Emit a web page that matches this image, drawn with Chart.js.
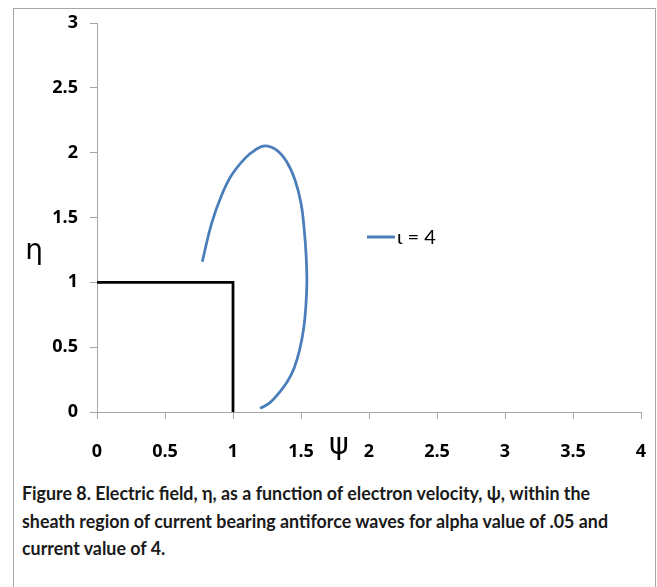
<!DOCTYPE html>
<html>
<head>
<meta charset="utf-8">
<script src="https://cdn.jsdelivr.net/npm/chart.js@4.4.0/dist/chart.umd.min.js"></script>
<style>
  body { margin: 0; background: #fff; }
  #wrap { position: relative; width: 657px; height: 587px; overflow: hidden; }
  #frame { position: absolute; left: 13px; top: 8px; width: 643px; height: 620px; border: 1px solid #a6a6a6; box-sizing: border-box; }
  #chart { position: absolute; left: 0; top: 0; }
  #caption {
    position: absolute; left: 22px; top: 479px; white-space: nowrap;
    font-family: Lato, "Open Sans", sans-serif;
    font-weight: bold; font-size: 19px; line-height: 27.5px; color: #1a1a1a;
    transform-origin: 0 0;
  }
</style>
</head>
<body>
<div id="wrap">
  <div id="frame"></div>
  <canvas id="chart" width="657" height="470"></canvas>
  <div id="caption"><span id="line1">Figure 8. Electric field, η, as a function of electron velocity, ψ, within the</span><br>sheath region of current bearing antiforce waves for alpha value of .05 and<br>current value of 4.</div>
</div>
<script>
// curve for current = 4
const curvePsi = [0.774, 0.843, 0.917, 0.990, 1.088, 1.162, 1.235, 1.321, 1.395, 1.456, 1.500, 1.524, 1.538, 1.543, 1.536, 1.519, 1.490, 1.450, 1.400, 1.346, 1.272, 1.199];
const curveEta = [1.159, 1.455, 1.673, 1.827, 1.956, 2.020, 2.053, 2.020, 1.930, 1.789, 1.609, 1.403, 1.200, 1.000, 0.820, 0.640, 0.480, 0.340, 0.235, 0.157, 0.072, 0.028];

// black boundary lines
const boxPsi = [0, 1, 1];
const boxEta = [1, 1, 0];

const legendLabel = 'ι = 4';
const xTitle = 'ψ';
const yTitle = 'η';

const tickFont = { family: '"Open Sans", Roboto, sans-serif', size: 18, weight: 'bold' };

function toPoints(xs, ys) {
    return xs.map((x, i) => ({ x: x, y: ys[i] }));
}

// squeeze the caption so its first line spans the same width as in the figure
function fitCaption() {
    const w = document.getElementById('line1').getBoundingClientRect().width;
    const s = Math.min(1, 568 / w);
    document.getElementById('caption').style.transform = 'scaleX(' + s + ')';
}

const extrasPlugin = {
    id: 'extras',
    afterDraw(chart) {
        const ctx = chart.ctx;
        ctx.save();
        ctx.fillStyle = '#000';
        ctx.textAlign = 'center';
        ctx.textBaseline = 'middle';
        ctx.font = '28px "DejaVu Sans", sans-serif';
        ctx.fillText(yTitle, 34, 252);
        ctx.font = '30px "DejaVu Sans", sans-serif';
        ctx.fillText(xTitle, 339, 446);

        // legend
        const ds = chart.data.datasets[0];
        ctx.strokeStyle = ds.borderColor;
        ctx.lineWidth = 3;
        ctx.beginPath();
        ctx.moveTo(367, 237);
        ctx.lineTo(395, 237);
        ctx.stroke();
        ctx.textAlign = 'left';
        ctx.font = '20px Lato, "Open Sans", sans-serif';
        ctx.fillText(ds.label, 397, 238);
        ctx.restore();
    }
};

const ctx = document.getElementById('chart').getContext('2d');
new Chart(ctx, {
    type: 'scatter',
    data: {
        datasets: [{
            label: legendLabel,
            data: toPoints(curvePsi, curveEta),
            showLine: true,
            borderColor: '#4a7ebb',
            borderWidth: 2.75,
            pointRadius: 0,
            tension: 0.4
        }, {
            label: 'boundary',
            data: toPoints(boxPsi, boxEta),
            showLine: true,
            borderColor: '#000',
            borderWidth: 2.75,
            pointRadius: 0,
            tension: 0
        }]
    },
    options: {
        responsive: false,
        animation: false,
        layout: { padding: { top: 23, right: 16, left: 0, bottom: 0 } },
        plugins: {
            legend: { display: false },
            tooltip: { enabled: false }
        },
        scales: {
            x: {
                min: 0, max: 4,
                ticks: { stepSize: 0.5, font: tickFont, color: '#000', padding: 22, maxRotation: 0,
                         callback: v => String(v) },
                grid: { drawOnChartArea: false, drawTicks: true, tickLength: 7, color: '#a6a6a6' },
                border: { color: '#a6a6a6', width: 1 },
                afterFit(scale) {
                    scale.height = 58;
                    scale.paddingLeft = 0;
                    scale.paddingRight = 0;
                }
            },
            y: {
                min: 0, max: 3,
                ticks: { stepSize: 0.5, font: tickFont, color: '#000', padding: 12,
                         callback: v => String(v) },
                grid: { drawOnChartArea: false, drawTicks: true, tickLength: 7, color: '#a6a6a6' },
                border: { color: '#a6a6a6', width: 1 },
                afterFit(scale) { scale.width = 97; }
            }
        }
    },
    plugins: [extrasPlugin]
});

fitCaption();
</script>
</body>
</html>
